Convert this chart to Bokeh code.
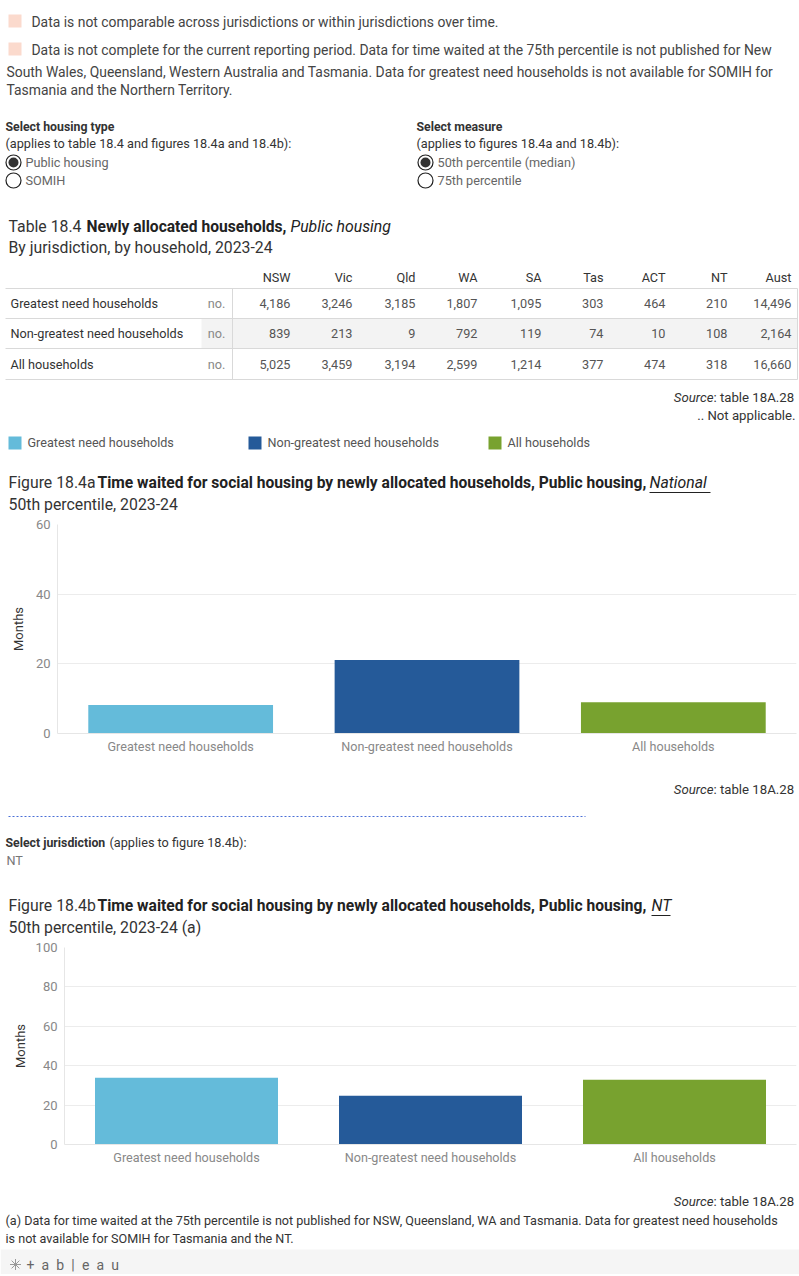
from bokeh.plotting import figure
from bokeh.models import Range1d, FactorRange, FixedTicker, ColumnDataSource
from bokeh.core.properties import value
from bokeh.embed import file_html
from bokeh.resources import INLINE

# ---------------- data ----------------
jurisdictions = ["NSW", "Vic", "Qld", "WA", "SA", "Tas", "ACT", "NT", "Aust"]
greatest_need = [4186, 3246, 3185, 1807, 1095, 303, 464, 210, 14496]
non_greatest_need = [839, 213, 9, 792, 119, 74, 10, 108, 2164]
all_households = [5025, 3459, 3194, 2599, 1214, 377, 474, 318, 16660]
row_labels = ["Greatest need households", "Non-greatest need households", "All households"]
row_units = ["no.", "no.", "no."]

categories = ["Greatest need households", "Non-greatest need households", "All households"]
national_median = [8.2, 21.1, 9.0]
nt_median = [33.9, 24.8, 32.9]
ticks_a = [0, 20, 40, 60]
ticks_b = [0, 20, 40, 60, 80, 100]

# ---------------- styles ----------------
FONT = "Roboto"
BAR_COLORS = ["#64bbda", "#255a99", "#78a22f"]
PINK = "#fbdacd"
W = 799


def text_fig(y0, y1):
    p = figure(width=W, height=int(y1 - y0), x_range=Range1d(0, W),
               y_range=Range1d(y1, y0), output_backend="svg", toolbar_location=None,
               min_border=0, x_axis_location=None, y_axis_location=None,
               outline_line_color=None)
    p.grid.visible = False
    return p


def t(p, x, y, s, size=13, color="#333333", style="normal", align="left"):
    p.text(x=[x], y=[y], text=[s], text_font=value(FONT), text_font_size=f"{size}px",
           text_color=color, text_font_style=style, text_align=align,
           text_baseline="middle")


def box(p, x0, x1, y0, y1, color):
    p.quad(left=[x0], right=[x1], top=[y0], bottom=[y1], fill_color=color, line_color=None)


def hline(p, x0, x1, y, color="#d9d9d9"):
    p.segment(x0=[x0], x1=[x1], y0=[y], y1=[y], line_color=color, line_width=1)


def radio(p, x, y, on):
    p.scatter(x=[x], y=[y], size=15, marker="circle", fill_color="white",
              line_color="#222222", line_width=1.2)
    if on:
        p.scatter(x=[x], y=[y], size=10, marker="circle", fill_color="#333333",
                  line_color=None)


def source_line(p, y):
    t(p, 713, y, "Source", size=13.2, color="#333333", style="italic", align="right")
    t(p, 713, y, ": table 18A.28", size=13.2, color="#333333")


BODY = 13.9
SMALL = 12.7
TITLE = 15.8
TITLE_B = 15.6

# ---------------- header ----------------
h = text_fig(0, 515)
box(h, 8, 21, 14, 27, PINK)
t(h, 31, 21, "Data is not comparable across jurisdictions or within jurisdictions over time.", BODY, "#444444")
box(h, 8, 21, 42, 55, PINK)
t(h, 31, 49, "Data is not complete for the current reporting period. Data for time waited at the 75th percentile is not published for New", BODY, "#444444")
t(h, 6, 71, "South Wales, Queensland, Western Australia and Tasmania. Data for greatest need households is not available for SOMIH for", BODY, "#444444")
t(h, 6, 89, "Tasmania and the Northern Territory.", BODY, "#444444")

t(h, 5, 126, "Select housing type", 12.3, "#333333", "bold")
t(h, 5, 143, "(applies to table 18.4 and figures 18.4a and 18.4b):", SMALL, "#333333")
radio(h, 13, 162, True)
t(h, 25, 162, "Public housing", SMALL, "#666666")
radio(h, 13, 180, False)
t(h, 25, 180, "SOMIH", SMALL, "#666666")

t(h, 416, 126, "Select measure", 12.3, "#333333", "bold")
t(h, 416, 143, "(applies to figures 18.4a and 18.4b):", SMALL, "#333333")
radio(h, 425, 162, True)
t(h, 437, 162, "50th percentile (median)", SMALL, "#666666")
radio(h, 425, 180, False)
t(h, 437, 180, "75th percentile", SMALL, "#666666")

t(h, 8, 226, "Table 18.4", TITLE, "#333333")
t(h, 86, 226, "Newly allocated households,", TITLE_B, "#222222", "bold")
t(h, 290, 226, "Public housing", TITLE, "#222222", "italic")
t(h, 8, 247, "By jurisdiction, by household, 2023-24", TITLE, "#333333")

# table
col_right = [290, 352, 415, 477, 541, 603, 665, 727, 791]
row_y = [303, 333, 364]
box(h, 201, 797, 318, 348, "#f3f3f3")
for yy in [288, 318, 348, 379]:
    hline(h, 5, 797, yy)
h.segment(x0=[232, 797], x1=[232, 797], y0=[288, 288], y1=[379, 379], line_color="#d9d9d9", line_width=1)

h.text(x=col_right, y=[277] * len(jurisdictions), text=jurisdictions, text_font=value(FONT),
       text_font_size=f"{SMALL}px", text_color="#333333", text_align="right", text_baseline="middle")
h.text(x=[10] * 3, y=row_y, text=row_labels, text_font=value(FONT), text_font_size=f"{SMALL}px",
       text_color="#333333", text_align="left", text_baseline="middle")
h.text(x=[216] * 3, y=row_y, text=row_units, text_font=value(FONT), text_font_size=f"{SMALL}px",
       text_color="#888888", text_align="center", text_baseline="middle")
for ry, vals in zip(row_y, [greatest_need, non_greatest_need, all_households]):
    src = ColumnDataSource(dict(x=col_right, y=[ry] * len(vals), s=[f"{v:,}" for v in vals]))
    h.text(x="x", y="y", text="s", source=src, text_font=value(FONT), text_font_size=f"{SMALL}px",
           text_color="#555555", text_align="right", text_baseline="middle")

source_line(h, 397)
t(h, 795, 415, ".. Not applicable.", 13.2, "#333333", align="right")

# legend
for (lx, c, lab) in zip([8, 248, 488], BAR_COLORS, categories):
    box(h, lx, lx + 13, 436, 449, c)
    t(h, lx + 19, 442, lab, 12.6, "#555555")

t(h, 8, 482, "Figure 18.4a", TITLE, "#333333")
t(h, 97, 482, "Time waited for social housing by newly allocated households, Public housing,", TITLE_B, "#222222", "bold")
t(h, 649, 482, "National", TITLE, "#222222", "italic")
hline(h, 649, 710, 492, "#222222")
t(h, 8, 504, "50th percentile, 2023-24", TITLE, "#333333")


# ---------------- bar charts ----------------
def bar_fig(y0, y1, plot_top, plot_bottom, ymax, vals, ticks, left, label_standoff):
    p = figure(width=W, height=int(y1 - y0), x_range=FactorRange(*categories),
               y_range=Range1d(0, ymax), output_backend="svg", toolbar_location=None,
               min_border_left=left, min_border_right=3,
               min_border_top=int(plot_top - y0), min_border_bottom=int(y1 - plot_bottom),
               outline_line_color=None)
    src = ColumnDataSource(dict(x=categories, top=vals, color=BAR_COLORS))
    p.vbar(x="x", top="top", width=0.75, color="color", source=src, line_color=None)
    p.xgrid.visible = False
    p.ygrid.grid_line_color = "#ececec"
    p.ygrid.ticker = FixedTicker(ticks=ticks)
    p.yaxis.ticker = FixedTicker(ticks=ticks)
    p.yaxis.axis_label = "Months"
    p.yaxis.axis_label_text_font = FONT
    p.yaxis.axis_label_text_font_size = "13px"
    p.yaxis.axis_label_text_font_style = "normal"
    p.yaxis.axis_label_text_color = "#333333"
    p.yaxis.axis_label_standoff = label_standoff
    p.yaxis.major_label_text_font = FONT
    p.yaxis.major_label_text_font_size = "13px"
    p.yaxis.major_label_text_color = "#888888"
    p.yaxis.major_label_standoff = 7
    p.yaxis.axis_line_color = "#e6e6e6"
    p.yaxis.major_tick_line_color = None
    p.yaxis.major_tick_out = 0
    p.yaxis.major_tick_in = 0
    p.yaxis.minor_tick_line_color = None
    p.xaxis.major_label_text_font = FONT
    p.xaxis.major_label_text_font_size = "12.6px"
    p.xaxis.major_label_text_color = "#888888"
    p.xaxis.major_label_standoff = 5
    p.xaxis.axis_line_color = "#e6e6e6"
    p.xaxis.major_tick_line_color = None
    p.xaxis.major_tick_out = 0
    p.xaxis.major_tick_in = 0
    p.xaxis.minor_tick_line_color = None
    return p


ca = bar_fig(515, 765, 524, 733, 60, national_median, ticks_a, 57, 7)

# ---------------- middle ----------------
m = text_fig(765, 938)
source_line(m, 789)
m.segment(x0=[8], x1=[585], y0=[816], y1=[816], line_color="#4a6fd6", line_width=1, line_dash="2 2")
t(m, 5, 842, "Select jurisdiction", 12.3, "#333333", "bold")
t(m, 109, 842, "(applies to figure 18.4b):", SMALL, "#333333")
t(m, 6, 860, "NT", SMALL, "#777777")
t(m, 8, 905, "Figure 18.4b", TITLE, "#333333")
t(m, 97, 905, "Time waited for social housing by newly allocated households, Public housing,", TITLE_B, "#222222", "bold")
t(m, 651, 905, "NT", TITLE, "#222222", "italic")
hline(m, 651, 670, 915, "#222222")
t(m, 8, 927, "50th percentile, 2023-24 (a)", TITLE, "#333333")

cb = bar_fig(938, 1172, 947, 1144, 100, nt_median, ticks_b, 64, 5)

# ---------------- footer ----------------
f = text_fig(1172, 1274)
source_line(f, 1201)
t(f, 5, 1220, "(a) Data for time waited at the 75th percentile is not published for NSW, Queensland, WA and Tasmania. Data for greatest need households", 12.6, "#333333")
t(f, 5, 1238, "is not available for SOMIH for Tasmania and the NT.", 12.6, "#333333")
box(f, 0, W, 1249, 1274, "#f5f5f5")
f.scatter(x=[15], y=[1264], size=11, marker="asterisk", line_color="#999999", line_width=1)
t(f, 26, 1264, "+\u2002a\u2002b\u2002|\u2002e\u2002a\u2002u", 14, "#666666")

open("out.html", "w").write(file_html([h, ca, m, cb, f], INLINE))
